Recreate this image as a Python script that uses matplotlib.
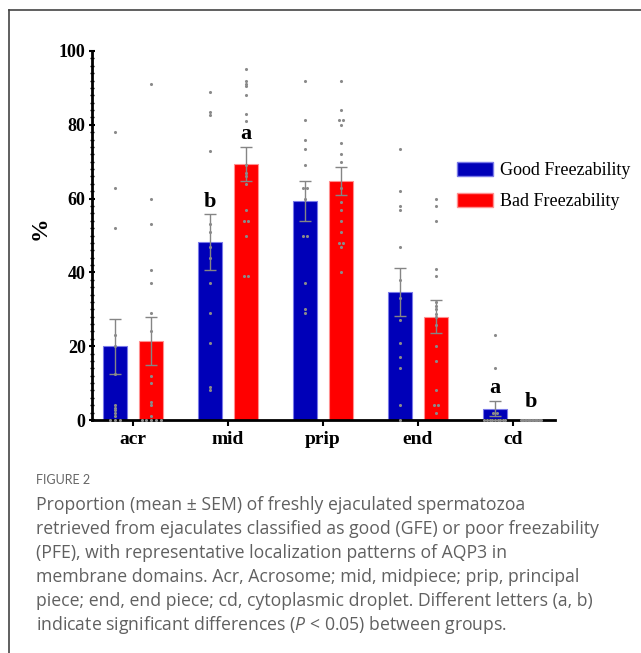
import numpy as np
import matplotlib
matplotlib.use("Agg")
import matplotlib.pyplot as plt
from matplotlib.ticker import MultipleLocator
from matplotlib.lines import Line2D
from matplotlib.patches import Patch

plt.rcParams['mathtext.fontset'] = 'custom'
plt.rcParams['mathtext.it'] = 'Open Sans:italic'
plt.rcParams['mathtext.rm'] = 'Open Sans'

# data
categories = ["acr", "mid", "prip", "end", "cd"]
good_mean = [20.0, 48.2, 59.4, 34.6, 3.1]
good_sem = [7.4, 7.6, 5.4, 6.5, 2.1]
bad_mean = [21.5, 69.4, 64.8, 28.0, 0.0]
bad_sem = [6.5, 4.5, 3.8, 4.4, 0.0]

good_points = [
    [78, 63, 52, 23, 20, 12.6, 4, 3.3, 2.6, 1.9, 1, 0, 0, 0],
    [89, 83.5, 82.6, 73, 53, 51, 46.8, 43.8, 37, 29, 21, 9, 8],
    [92, 81.4, 76, 73.4, 69, 63, 63, 60, 50, 50, 37, 30, 29],
    [73.4, 62, 58, 57, 47, 38, 33, 27, 21, 17, 14, 4, 0],
    [23, 14, 2, 2, 0, 0, 0, 0, 0, 0, 0, 0, 0],
]
bad_points = [
    [91, 60, 53, 40.6, 37, 29, 24, 12, 10, 5, 4, 1, 0, 0, 0, 0, 0],
    [95, 92, 91, 90.5, 88, 83, 81, 69, 67, 66, 64, 57, 54, 54, 50, 39, 39],
    [92, 84, 81.3, 81.3, 80, 75, 72, 70, 63, 59, 57, 54, 51, 48, 48, 47, 40],
    [60, 58, 54, 41, 39, 32, 31, 30, 28.7, 27.8, 25.7, 20, 16, 8, 4, 4, 1.8],
    [0] * 16,
]

# significance letters: (category index, series, text, y)
letters = [(1, 0, "b", 59), (1, 1, "a", 77.5), (4, 0, "a", 8.7), (4, 1, "b", 4.9)]

caption = [
    "Proportion (mean \u00b1 SEM) of freshly ejaculated spermatozoa",
    "retrieved from ejaculates classified as good (GFE) or poor freezability",
    "(PFE), with representative localization patterns of AQP3 in",
    "membrane domains. Acr, Acrosome; mid, midpiece; prip, principal",
    "piece; end, end piece; cd, cytoplasmic droplet. Different letters (a, b)",
    "indicate significant differences ($P$ < 0.05) between groups.",
]

blue = "#0000b8"
red = "#ff0000"
serif = ["Liberation Serif", "DejaVu Serif"]

fig = plt.figure(figsize=(6.41, 6.53), dpi=100)
ax = fig.add_axes([0.1435, 0.3568, 0.7223, 0.5651])

x = np.arange(len(categories))
off = 0.19
w = 0.253


def spread(xc, vals):
    # put equal values side by side
    xs, ys = [], []
    uniq = {}
    for v in vals:
        uniq[v] = uniq.get(v, 0) + 1
    for v, n in uniq.items():
        step = min(0.05, 0.22 / max(n - 1, 1))
        for k in range(n):
            xs.append(xc + (k - (n - 1) / 2) * step)
            ys.append(v)
    return xs, ys


for sign, means, sems, pts, col, edge in [
        (-1, good_mean, good_sem, good_points, blue, "#7a7ae8"),
        (1, bad_mean, bad_sem, bad_points, red, "#ff9090")]:
    xp = x + sign * off
    ax.bar(xp, means, width=w, color=col, edgecolor=edge, linewidth=0.8, zorder=2)
    ax.errorbar(xp, means, yerr=sems, fmt="none", ecolor="#858585", elinewidth=1,
                capsize=4.5, capthick=1, zorder=3)
    for i in range(len(categories)):
        sx, sy = spread(xp[i], pts[i])
        ax.scatter(sx, sy, s=5, color="#8a8a8a", zorder=4, linewidths=0, clip_on=False)

for i, s, t, yv in letters:
    ax.text(x[i] + (2 * s - 1) * off, yv, t, ha="center", va="center",
            fontsize=16, fontweight="bold", family=serif)

ax.set_xlim(-0.432, 4.442)
ax.set_ylim(0, 100)
ax.set_xticks(x)
ax.set_xticklabels(categories, fontsize=14, fontweight="bold", family=serif)
ax.set_yticks([0, 20, 40, 60, 80, 100])
ax.set_yticklabels(["0", "20", "40", "60", "80", "100"], fontsize=13,
                   fontweight="bold", family=serif)
ax.yaxis.set_minor_locator(MultipleLocator(2))
ax.tick_params(axis="y", which="major", length=5, width=1.5, direction="inout", pad=2)
ax.tick_params(axis="y", which="minor", length=3, width=1, direction="inout")
ax.tick_params(axis="x", length=4, width=1.5, pad=4)
for s in ["top", "right"]:
    ax.spines[s].set_visible(False)
for s in ["left", "bottom"]:
    ax.spines[s].set_linewidth(2)
ax.set_ylabel("%", fontsize=17, fontweight="bold", family=serif)
ax.yaxis.set_label_coords(-0.09, 0.52)

handles = [Patch(facecolor=blue, edgecolor="#7a7ae8"), Patch(facecolor=red, edgecolor="#ff9090")]
fig.legend(handles, ["Good Freezability", "Bad Freezability"], loc="upper left",
           bbox_to_anchor=(457 / 641, 1 - 162 / 653), frameon=False,
           prop={"family": serif, "size": 13}, borderpad=0, borderaxespad=0,
           handlelength=2.0, handleheight=0.85, labelspacing=0.75, handletextpad=0.4)

# caption
fig.text(36 / 641, 1 - 480 / 653, "FIGURE 2", fontsize=9, color="#666666",
         family=["Lato", "DejaVu Sans"], va="center")
for k, line in enumerate(caption):
    fig.text(36 / 641, 1 - (505 + k * 24) / 653, line, fontsize=12.7, color="#606060",
             family=["Open Sans", "DejaVu Sans"], va="center")

# frame lines
fig.add_artist(Line2D([9 / 641, 1], [1 - 10 / 653, 1 - 10 / 653], color="#444444", lw=1.2))
fig.add_artist(Line2D([9 / 641, 9 / 641], [0, 1 - 10 / 653], color="#444444", lw=1.2))

fig.savefig("out.png", dpi=100)
